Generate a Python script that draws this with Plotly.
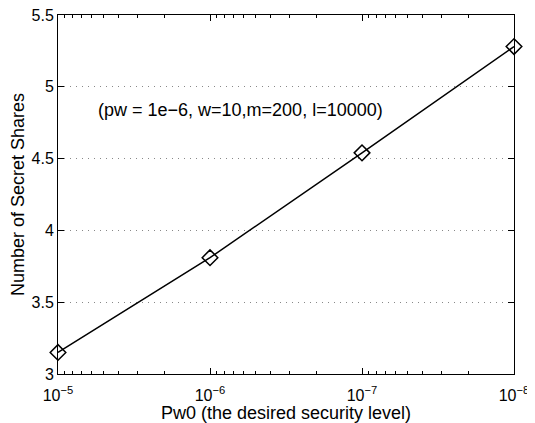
import plotly.graph_objects as go

pw0 = [1e-5, 1e-6, 1e-7, 1e-8]
shares = [3.15, 3.81, 4.54, 5.28]
xtick_vals = [1e-5, 1e-6, 1e-7, 1e-8]
xtick_text = ["10<sup>\u22125</sup>", "10<sup>\u22126</sup>", "10<sup>\u22127</sup>", "10<sup>\u22128</sup>"]
ytick_vals = [3, 3.5, 4, 4.5, 5, 5.5]
ytick_text = ["3", "3.5", "4", "4.5", "5", "5.5"]
minor_vals = [m * 10.0 ** e for e in (-8, -7, -6) for m in range(2, 10)]
note = "(pw = 1e\u22126, w=10,m=200, l=10000)"

fig = go.Figure()
fig.add_trace(go.Scatter(
    x=pw0, y=shares, mode="lines+markers",
    line=dict(color="black", width=1.5),
    marker=dict(symbol="diamond-open", size=12, color="black", line=dict(width=1.5)),
    showlegend=False, cliponaxis=False,
))
fig.add_annotation(x=-6.2, y=4.84, xref="x", yref="y", text=note, showarrow=False,
                   font=dict(size=18, color="black"))
fig.update_xaxes(
    type="log", range=[-5, -8], automargin=False, ticklabeloverflow="allow",
    tickmode="array", tickvals=xtick_vals, ticktext=xtick_text,
    ticks="inside", ticklen=6, tickcolor="black", ticklabelstandoff=7,
    minor=dict(tickmode="array", tickvals=minor_vals, ticks="inside", ticklen=3, tickcolor="black"),
    showline=True, linecolor="black", linewidth=1, mirror="ticks",
    showgrid=False, zeroline=False,
    title=dict(text="Pw0 (the desired security level)", standoff=0, font=dict(size=18, color="black")),
    tickfont=dict(size=16, color="black"),
)
fig.update_yaxes(
    range=[3, 5.5], automargin=False, ticklabeloverflow="allow",
    tickmode="array", tickvals=ytick_vals, ticktext=ytick_text,
    ticks="inside", ticklen=6, tickcolor="black",
    showline=True, linecolor="black", linewidth=1, mirror="ticks",
    showgrid=True, gridcolor="#888888", griddash="1px,5px", gridwidth=1, zeroline=False,
    title=dict(text="Number of Secret Shares", standoff=4, font=dict(size=18, color="black")),
    tickfont=dict(size=16, color="black"),
)
# page body has an 8px default margin, so the figure is sized to fit inside the window
fig.update_layout(
    width=527, height=415,
    margin=dict(l=50, r=21, t=7, b=49),
    plot_bgcolor="white", paper_bgcolor="white",
    font=dict(family="Liberation Sans, Arial, sans-serif", size=14, color="black"),
)
fig.write_html("out.html")
